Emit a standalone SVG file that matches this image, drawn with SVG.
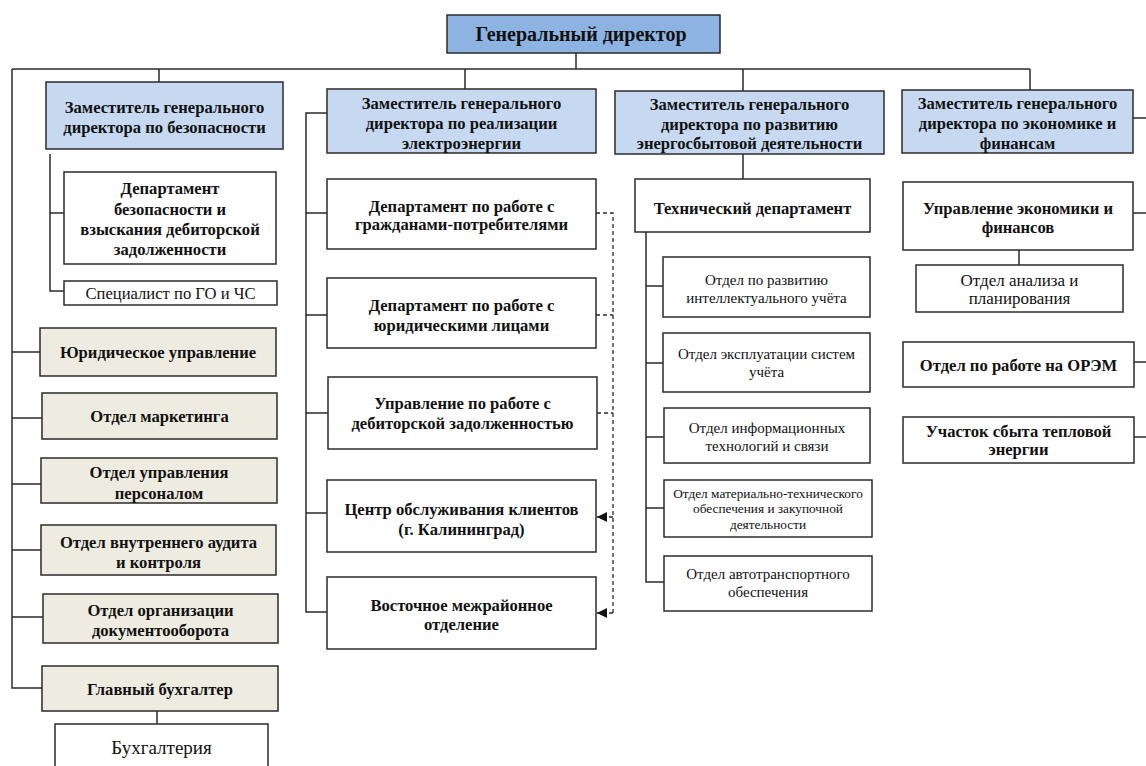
<svg xmlns="http://www.w3.org/2000/svg" width="1146" height="766" viewBox="0 0 1146 766">
<defs>
<style>
.bx{stroke:#2b2b2b;stroke-width:1.5;fill:#ffffff}
.top{fill:#8db3e2}
.dep{fill:#c6d9f1}
.bg{fill:#eeece1}
.ln{stroke:#2b2b2b;stroke-width:1.5;fill:none}
.ds{stroke:#2b2b2b;stroke-width:1.3;fill:none;stroke-dasharray:4 3}
text{font-family:"Liberation Serif","Times New Roman",serif;fill:#111;text-anchor:middle}
.b{font-weight:bold;font-size:16.6px}
.t{font-weight:bold;font-size:20px}
.n{font-size:16.6px}
.m{font-size:17px}
.l{font-size:19px}
.s{font-size:15px}
.xs{font-size:13.3px}
</style>
<marker id="ar" viewBox="0 0 10 10" refX="10" refY="5" markerWidth="10" markerHeight="10" markerUnits="userSpaceOnUse" orient="auto">
<path d="M0 0L10 5L0 10z" fill="#111"/>
</marker>
</defs>
<rect width="1146" height="766" fill="#ffffff"/>
<g id="connectors">
<path class="ln" d="M576 53V69M12 69H1030M159 69V82M465 69V89M743 69V91M1030 69V90"/>
<path class="ln" d="M12 69V688H42M12 352H40M12 418H42M12 484H41M12 550H41M12 617H43"/>
<path class="ln" d="M50 154V291H64M50 213H64"/>
<path class="ln" d="M157 711V724"/>
<path class="ln" d="M327 113H306V612H327M306 213H327M306 315H327M306 413H328M306 513H327"/>
<path class="ln" d="M743 154V179"/>
<path class="ln" d="M646 232V582H664M646 286H663M646 363H663M646 437H664M646 508H664"/>
<path class="ln" d="M1133 118H1146M1133 213H1146M1134 362H1146M1134 437H1146M1019 250V265"/>
<path class="ds" d="M596 213H613V613M596 315H613M597 413H613"/>
<path class="ds" d="M613 517H597" marker-end="url(#ar)"/>
<path class="ds" d="M613 613H597" marker-end="url(#ar)"/>
</g>
<g id="gen"><rect class="bx top" x="447" y="15" width="273" height="38"/><text class="t" x="581" y="41">Генеральный директор</text></g>
<g id="dep-sec"><rect class="bx dep" x="46" y="82" width="237" height="67"/><text class="b" x="164.5" y="112.5">Заместитель генерального</text><text class="b" x="164.5" y="132.5">директора по безопасности</text></g>
<g id="dep-sales"><rect class="bx dep" x="327" y="89" width="269" height="64"/><text class="b" x="461.5" y="108.5">Заместитель генерального</text><text class="b" x="461.5" y="128.5">директора по реализации</text><text class="b" x="461.5" y="148.5">электроэнергии</text></g>
<g id="dep-dev"><rect class="bx dep" x="615" y="91" width="269" height="63"/><text class="b" x="749.5" y="109.5">Заместитель генерального</text><text class="b" x="749.5" y="129.5">директора по развитию</text><text class="b" x="749.5" y="148.5">энергосбытовой деятельности</text></g>
<g id="dep-eco"><rect class="bx dep" x="902" y="90" width="231" height="63"/><text class="b" x="1017.5" y="108.5">Заместитель генерального</text><text class="b" x="1017.5" y="128.5">директора по экономике и</text><text class="b" x="1017.5" y="148.5">финансам</text></g>
<g id="sec-dept"><rect class="bx" x="64" y="172" width="212" height="92"/><text class="b" x="170" y="193.5">Департамент</text><text class="b" x="170" y="214.5">безопасности и</text><text class="b" x="170" y="234.5">взыскания дебиторской</text><text class="b" x="170" y="254.5">задолженности</text></g>
<g id="spec"><rect class="bx" x="64" y="281" width="213" height="24"/><text class="n" x="170.5" y="298.5">Специалист по ГО и ЧС</text></g>
<g id="yur"><rect class="bx bg" x="40" y="328" width="236" height="48"/><text class="b" x="158" y="357.5">Юридическое управление</text></g>
<g id="mark"><rect class="bx bg" x="42" y="393" width="235" height="46"/><text class="b" x="159.5" y="421.5">Отдел маркетинга</text></g>
<g id="pers"><rect class="bx bg" x="41" y="458" width="236" height="45"/><text class="b" x="159" y="477.5">Отдел управления</text><text class="b" x="159" y="498.5">персоналом</text></g>
<g id="audit"><rect class="bx bg" x="41" y="525" width="235" height="50"/><text class="b" x="158.5" y="547.5">Отдел внутреннего аудита</text><text class="b" x="158.5" y="567.5">и контроля</text></g>
<g id="docs"><rect class="bx bg" x="43" y="594" width="235" height="49"/><text class="b" x="160.5" y="615.5">Отдел организации</text><text class="b" x="160.5" y="635.5">документооборота</text></g>
<g id="glav"><rect class="bx bg" x="42" y="666" width="236" height="45"/><text class="b" x="160" y="694.5">Главный бухгалтер</text></g>
<g id="bukh"><rect class="bx" x="55" y="724" width="213" height="50"/><text class="l" x="161.5" y="753.5">Бухгалтерия</text></g>
<g id="citizens"><rect class="bx" x="327" y="179" width="269" height="70"/><text class="b" x="461.5" y="211.5">Департамент по работе с</text><text class="b" x="461.5" y="230">гражданами-потребителями</text></g>
<g id="legal"><rect class="bx" x="327" y="278" width="269" height="70"/><text class="b" x="461.5" y="310.5">Департамент по работе с</text><text class="b" x="461.5" y="330.5">юридическими лицами</text></g>
<g id="debt"><rect class="bx" x="328" y="377" width="269" height="72"/><text class="b" x="462.5" y="408.5">Управление по работе с</text><text class="b" x="462.5" y="428.5">дебиторской задолженностью</text></g>
<g id="center"><rect class="bx" x="327" y="480" width="269" height="72"/><text class="b" x="461.5" y="514.5">Центр обслуживания клиентов</text><text class="b" x="461.5" y="534.5">(г. Калининград)</text></g>
<g id="east"><rect class="bx" x="327" y="577" width="269" height="72"/><text class="b" x="461.5" y="610.5">Восточное межрайонное</text><text class="b" x="461.5" y="629.5">отделение</text></g>
<g id="tech"><rect class="bx" x="635" y="179" width="235" height="53"/><text class="b" x="752.5" y="213.5">Технический департамент</text></g>
<g id="t1"><rect class="bx" x="663" y="257" width="207" height="60"/><text class="s" x="766.5" y="285">Отдел по развитию</text><text class="s" x="766.5" y="303">интеллектуального учёта</text></g>
<g id="t2"><rect class="bx" x="663" y="333" width="207" height="59"/><text class="s" x="766.5" y="359">Отдел эксплуатации систем</text><text class="s" x="766.5" y="377">учёта</text></g>
<g id="t3"><rect class="bx" x="664" y="408" width="206" height="55"/><text class="s" x="767" y="433">Отдел информационных</text><text class="s" x="767" y="451">технологий и связи</text></g>
<g id="t4"><rect class="bx" x="664" y="480" width="208" height="57"/><text class="xs" x="768" y="497.5">Отдел материально-технического</text><text class="xs" x="768" y="513">обеспечения и закупочной</text><text class="xs" x="768" y="528.5">деятельности</text></g>
<g id="t5"><rect class="bx" x="664" y="556" width="208" height="55"/><text class="s" x="768" y="579">Отдел автотранспортного</text><text class="s" x="768" y="597">обеспечения</text></g>
<g id="ueco"><rect class="bx" x="903" y="182" width="230" height="68"/><text class="b" x="1018" y="213.5">Управление экономики и</text><text class="b" x="1018" y="232.5">финансов</text></g>
<g id="anal"><rect class="bx" x="916" y="265" width="207" height="47"/><text class="m" x="1019.5" y="285.5">Отдел анализа и</text><text class="m" x="1019.5" y="303.5">планирования</text></g>
<g id="orem"><rect class="bx" x="903" y="342" width="231" height="45"/><text class="b" x="1018.5" y="370.5">Отдел по работе на ОРЭМ</text></g>
<g id="heat"><rect class="bx" x="903" y="417" width="231" height="46"/><text class="b" x="1018.5" y="436.5">Участок сбыта тепловой</text><text class="b" x="1018.5" y="454.5">энергии</text></g>
</svg>
